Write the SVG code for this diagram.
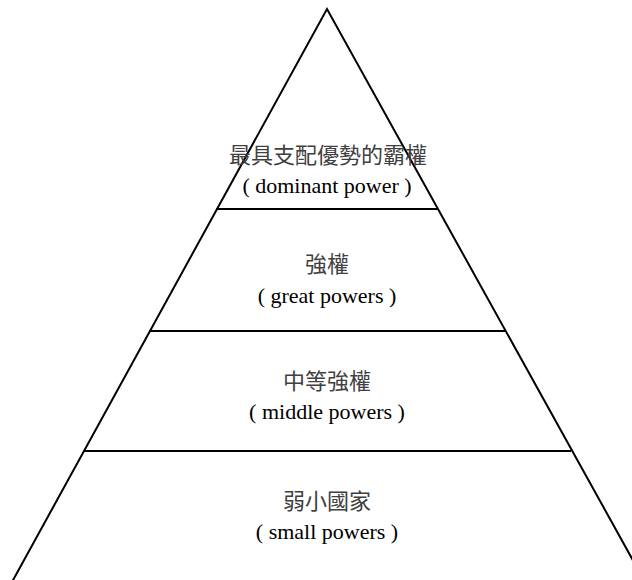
<svg xmlns="http://www.w3.org/2000/svg" width="632" height="580" viewBox="0 0 632 580">
<style>
.ln{stroke:#000;stroke-width:2;fill:none}
.zh{font-family:"Noto Sans CJK TC","Noto Sans CJK SC",sans-serif;font-size:22px;fill:#404040;text-anchor:middle}
.en{font-family:"Liberation Serif",serif;font-size:22px;fill:#000;text-anchor:middle}
</style>
<rect width="632" height="580" fill="#fff"/>
<g id="connectors">
<path class="ln" d="M12,582 L327,9 L645,582"/>
<line class="ln" x1="216" y1="209" x2="438" y2="209"/>
<line class="ln" x1="150" y1="331" x2="505" y2="331"/>
<line class="ln" x1="84" y1="451" x2="571" y2="451"/>
</g>
<g id="dominant">
<text class="zh" x="328" y="163">最具支配優勢的霸權</text>
<text class="en" x="327" y="193">( dominant power )</text>
</g>
<g id="great">
<text class="zh" x="327" y="272">強權</text>
<text class="en" x="327" y="303">( great powers )</text>
</g>
<g id="middle">
<text class="zh" x="327" y="389">中等強權</text>
<text class="en" x="327" y="419">( middle powers )</text>
</g>
<g id="small">
<text class="zh" x="327" y="509">弱小國家</text>
<text class="en" x="327" y="539">( small powers )</text>
</g>
</svg>
